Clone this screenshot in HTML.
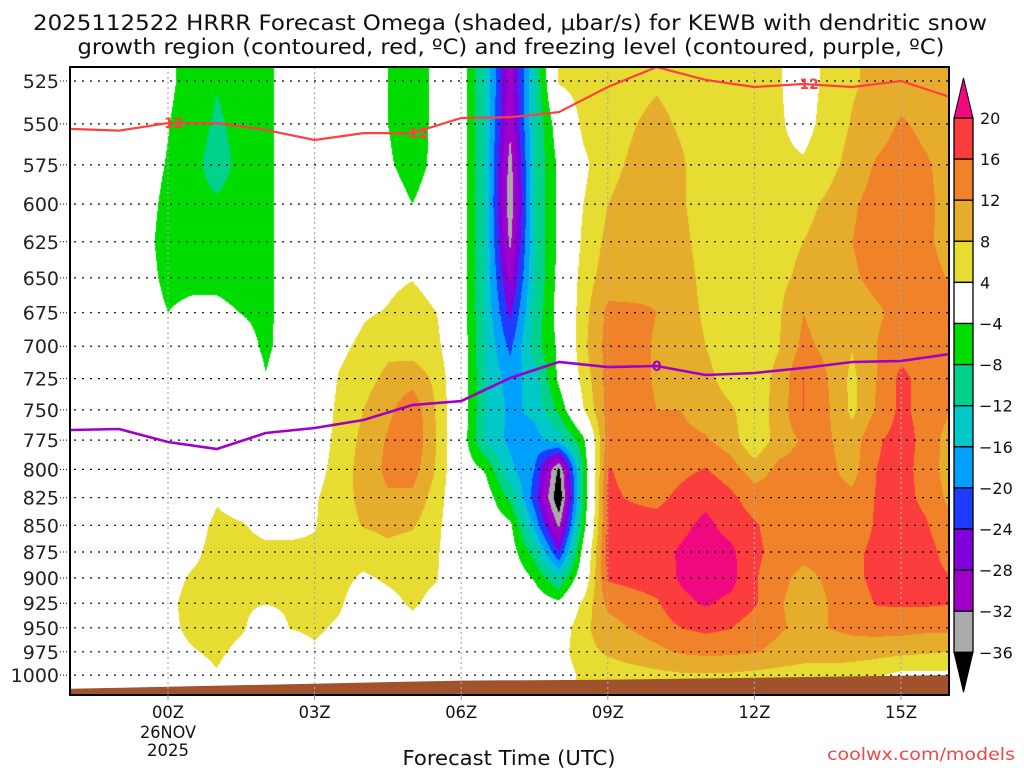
<!DOCTYPE html>
<html><head><meta charset="utf-8"><style>
html,body{margin:0;padding:0;background:#fff;}
#wrap{position:relative;width:1024px;height:768px;overflow:hidden;}
#fill{position:absolute;left:70px;top:67px;}
#ov{position:absolute;left:0;top:0;}
text{font-family:"DejaVu Sans","Liberation Sans",sans-serif;}
</style></head><body>
<div id="wrap">
<canvas id="fill" width="879" height="628"></canvas>
<svg id="ov" width="1024" height="768">
<g id="terrain"></g>
<g id="grid"></g>
<g id="lines"></g>
<rect x="70" y="67" width="879" height="628" fill="none" stroke="#000" stroke-width="2"/>
<g id="yaxis"></g>
<g id="xaxis"></g>
<g id="cbar"></g>
<text x="510" y="30" text-anchor="middle" font-size="21" textLength="954" lengthAdjust="spacingAndGlyphs" fill="#111">2025112522 HRRR Forecast Omega (shaded, μbar/s) for KEWB with dendritic snow</text>
<text x="511" y="54" text-anchor="middle" font-size="21" textLength="867" lengthAdjust="spacingAndGlyphs" fill="#111">growth region (contoured, red, ºC) and freezing level (contoured, purple, ºC)</text>
<text x="509" y="765" text-anchor="middle" font-size="20" textLength="213" lengthAdjust="spacingAndGlyphs" fill="#111">Forecast Time (UTC)</text>
<text x="921" y="760" text-anchor="middle" font-size="17" textLength="188" lengthAdjust="spacingAndGlyphs" fill="#f04848">coolwx.com/models</text>
</svg>
</div>
<script>
const times = [-2,-1,0,0.5,1,1.5,2,2.5,3,3.5,4,4.5,5,5.5,6,6.5,7,7.5,8,8.5,9,10,10.5,11,11.5,12,12.5,13,13.5,14,14.5,15,15.5,16];
const levels = [525,550,575,600,625,650,675,700,725,750,775,800,825,850,875,900,925,950,975,1000];
// omega per time column, levels 525 -> 1000
const omega = [
[0,0,0,0,0,0,0,0,0,0,0,0,0,0,0,0,0,0,0,0],
[0,0,0,0,0,0,0,0,0,0,0,0,0,0,0,0,0,0,0,0],
[-3,-3.8,-4.3,-5,-5.5,-5,-4,-2,0,0,0,0,0,1,2,2.5,3,3,2.5,1],
[-6,-6.5,-7,-7,-6.5,-5,-3,-1,0,0,0,0,0,2,3,4.5,5.5,5,3.7,2],
[-7.8,-8.5,-9.5,-7.5,-6.5,-5,-3,-1,0,0,0,0,3.5,5,5.5,5.5,5.5,5.5,4.8,3.7],
[-6.5,-7,-7,-6.5,-6,-5.5,-4.1,-2,0,0,0,0,2,4.3,5,5,4.5,4.5,3,1],
[-5,-5,-5,-5,-5,-5,-5,-4.8,-3.8,-1,0,0,0,3,4.8,5,4.1,2,0.5,0],
[-2,-2,-2,-2,-2,-2,-2,-2,-1,0,0,0,0,3,4.8,5,4.5,4.1,2,0],
[-1,-1,-1,-1,-1,-1,-1,-1,0,0.5,1,2,3.5,3.8,4.6,5,5,4.6,3.5,1],
[0,0,0,0,0,0,1,3,4.3,5,5.5,6,6.5,6,5.5,5,4.5,3.5,2,0.5],
[-2,-2,-2,-1.5,-0.5,1,3.5,5,6.5,8,9,9.5,9,8.3,5.5,3.5,2,1,0.5,0],
[-4,-4,-3.5,-2,0,3,4.3,7,9,11,12.5,13,11.5,9,7,4.5,3,1,0,0],
[-6,-6,-5.5,-4,-1,3.8,6,6,10.5,15,15.5,14,11,8.5,6,5,4.5,3,1,0],
[-3,-3,-3,-2,0,2,4,5,7,7.5,7.8,7.5,6,5,4.5,4.2,3,1,0,0],
[-1,-1,-1,-1,-1,-1,-1,-1,-1,-1,-1,-1,-0.5,0,0,0,0,0,0,0],
[-13,-13,-13,-13,-13,-13,-13,-12.5,-12,-12,-13,-4.5,-1.5,-0.5,0,0,0,0,0,0],
[-30,-31,-34,-35,-33,-29,-25,-21,-18,-17,-17,-15,-9,-3,-1.5,0,0,0,0,0],
[-12,-12,-12,-12,-12,-12,-11,-10,-14,-15,-17.5,-20,-22,-17,-10,-4.5,-1,0,0,0],
[4.5,-1,-3,-3,-3,-2.5,-2,-3,-3,-7,-14,-37,-40,-33,-24,-12,-3,1,2,1.5],
[5.5,5,3,4,5,6,6.5,7,5.5,3.8,-5,-8,-8,-6,-2,0,5,7,6.8,5],
[6,6.5,7,8,9,10,13,13.5,13.5,13.5,14,16.2,16.5,17,17.5,16.5,13,10.5,8.5,6],
[7.5,9,10,10.5,11,11.5,12,11.8,11.8,12,13.5,14,15,17.5,18.5,18,15.5,14,11,7],
[6.5,7.5,8.5,8.5,9,9.5,9.5,10,11,12,13,15,17,19,20.5,20.5,19,16,12.5,7.5],
[6,6,6,6,6.5,7,7.5,8,9,10,12.5,16.2,19,21,22,22,20.5,17,13,7.5],
[5.5,5.5,5.5,5.5,6,6,6,6,6.5,8.5,10,14,17,18.5,21,21.5,19,16.2,12.8,7.5],
[5,5,5,5.5,6,6.5,6.5,6.5,6,6,4.5,10,14,16.5,17,16.5,16.5,14,12.3,7],
[4.3,4.5,4.8,6,6.5,7,7.5,7.8,9,9.5,10,13,13.5,14,14.5,13,12.5,12.5,11,6.5],
[2,2.5,4.5,6.5,8,9,12,13,16.2,16.1,12.5,13.5,13.5,13.5,13,11,10,11,10,6],
[5,5.5,6.5,8.8,10,10.5,10,11,12,12.5,12.5,13,13,13,13.5,12.5,12,12,10,6],
[7.5,8.3,9.5,11.5,12,11.5,10,8.2,7,7,10,10.5,13,13.5,15,15,14,13,10,5.5],
[9,10,12.5,13.5,13.5,13,11.5,12,12,12.5,15.5,16,16.3,16.5,17,17,16.3,13.5,9.5,4.5],
[10,12.5,14,14.5,14,13.5,13,14.5,17,17,17.5,17.5,17.5,18,18,17.5,16.5,13.5,9,3],
[10,11,12.5,13,12.5,13,13.5,14,14.5,14.5,15,14.5,15,16.5,17.5,17,16.5,13,8.5,3],
[9.5,10,10.5,10.5,11,11.8,13,13,13,12.5,10,10,11,13,14.5,16.2,16.2,13,8,3]
];
const lineTimes = [-2,-1,0,1,2,3,4,5,6,7,8,9,10,11,12,13,14,15,16];
const dgzPress = [553,554,549.5,549.5,553.6,559.7,555.5,555.5,546.5,546,543,528.4,516.5,524.4,528.4,526.7,528.4,525,534.2];
const frzPress = [766.6,765.7,776.6,782.5,769.1,764.9,758.3,746.1,742.9,724.5,712.1,716,715.2,722.2,720.6,716.7,712.1,711.3,705.9];
const sfcTimes = [-2,6,9,16];
const sfcPress = [1015,1006,1005,1000];
const cbLevels = [20,16,12,8,4,-4,-8,-12,-16,-20,-24,-28,-32,-36];
const cbColors = ["#f0087e","#fb3d3d","#f0832a","#e6ad2d","#e6dc32","#ffffff","#00dc00","#00d28c","#00c8c8","#00a0ff","#1e3cff","#8200dc","#a000c8","#aaaaaa","#000000"];
const xTicks = [0,3,6,9,12,15];
const xTickLabels = ["00Z","03Z","06Z","09Z","12Z","15Z"];

const X0=70,X1=949,Y0=67,Y1=695;
function xOf(t){return 168+48.87*t;}
function yOf(p){return 81+922*Math.log(p/525);}
const NS="http://www.w3.org/2000/svg";
function mk(tag,parent){const e=document.createElementNS(NS,tag);parent.appendChild(e);return e;}

(function(){
  const cv=document.getElementById('fill'),ctx=cv.getContext('2d');
  const W=cv.width,H=cv.height,img=ctx.createImageData(W,H);
  const rgb=cbColors.map(c=>[parseInt(c.substr(1,2),16),parseInt(c.substr(3,2),16),parseInt(c.substr(5,2),16)]);
  const ly=levels.map(yOf), tx=times.map(xOf);
  const asc=cbLevels.slice().reverse();
  function colorIdx(v){let k=0; while(k<asc.length && v>=asc[k]) k++; return cbColors.length-1-k;}
  for(let j=0;j<H;j++){
    const y=Y0+j+0.5; let r=0,fr=0;
    if(y<=ly[0]){r=0;fr=0;} else if(y>=ly[ly.length-1]){r=ly.length-2;fr=1;}
    else{while(ly[r+1]<y)r++;fr=(y-ly[r])/(ly[r+1]-ly[r]);}
    let c=0;
    for(let i=0;i<W;i++){
      const x=X0+i+0.5; let fc;
      if(x<=tx[0]){c=0;fc=0;} else if(x>=tx[tx.length-1]){c=tx.length-2;fc=1;}
      else{while(tx[c+1]<x)c++;fc=(x-tx[c])/(tx[c+1]-tx[c]);}
      const a=omega[c][r],b=omega[c][r+1],d=omega[c+1][r],e=omega[c+1][r+1];
      const v=(a*(1-fr)+b*fr)*(1-fc)+(d*(1-fr)+e*fr)*fc;
      const col=rgb[colorIdx(v)],o=(j*W+i)*4;
      img.data[o]=col[0];img.data[o+1]=col[1];img.data[o+2]=col[2];img.data[o+3]=255;
    }
  }
  ctx.putImageData(img,0,0);
})();

(function(){
  const g=document.getElementById('terrain');
  let pts=[];
  for(let i=0;i<sfcTimes.length;i++){let x=Math.max(X0,Math.min(X1,xOf(sfcTimes[i])));pts.push(x+','+yOf(sfcPress[i]).toFixed(1));}
  pts.push(X1+','+Y1); pts.push(X0+','+Y1);
  const pg=mk('polygon',g);
  
  
  pg.setAttribute('points',pts.join(' '));pg.setAttribute('fill','#a0522d');
})();

(function(){
  const g=document.getElementById('grid');
  levels.forEach(p=>{
    const l=mk('line',g);
    
    
    const y=yOf(p).toFixed(1);
    l.setAttribute('x1',X0+4);l.setAttribute('x2',X1);l.setAttribute('y1',y);l.setAttribute('y2',y);
    l.setAttribute('stroke','#000');l.setAttribute('stroke-width','1.2');l.setAttribute('stroke-dasharray','2,6');
  });
  xTicks.forEach(t=>{
    const l=mk('line',g);
    
    
    const x=xOf(t).toFixed(1);
    l.setAttribute('x1',x);l.setAttribute('x2',x);l.setAttribute('y1',Y0);l.setAttribute('y2',Y1);
    l.setAttribute('stroke','#aaa');l.setAttribute('stroke-width','1.2');l.setAttribute('stroke-dasharray','2,3');
  });
})();

(function(){
  const g=document.getElementById('lines');
  function poly(arr,color,w,name){
    const pts=lineTimes.map((t,i)=>xOf(t).toFixed(1)+','+Math.max(Y0,yOf(arr[i])).toFixed(1)).join(' ');
    const pl=mk('polyline',g);
    
    
    pl.setAttribute('points',pts);pl.setAttribute('fill','none');pl.setAttribute('stroke',color);pl.setAttribute('stroke-width',w);
  }
  poly(dgzPress,'#ff4040',2.2,'dgz-minus12-line');
  poly(frzPress,'#a000c8',2.6,'freezing-level-line');
  function lab(t,arr,txt,color,name){
    const i=lineTimes.indexOf(t);
    const tx=mk('text',g);
    
    
    tx.setAttribute('x',xOf(t));tx.setAttribute('y',(yOf(arr[i])+5).toFixed(1));
    tx.setAttribute('text-anchor','middle');tx.setAttribute('font-size','14');tx.setAttribute('font-weight','bold');
    tx.setAttribute('fill',color);tx.textContent=txt;
  }
  lab(0,dgzPress,'−12','#ff4040','dgz-label');
  lab(5,dgzPress,'−12','#ff4040','dgz-label');
  lab(13,dgzPress,'−12','#ff4040','dgz-label');
  lab(10,frzPress,'0','#a000c8','freezing-label');
})();

(function(){
  const g=document.getElementById('yaxis');
  levels.forEach(p=>{
    const y=yOf(p);
    const tk=mk('line',g);
    
    
    tk.setAttribute('x1',60);tk.setAttribute('x2',69);tk.setAttribute('y1',y);tk.setAttribute('y2',y);tk.setAttribute('stroke','#000');tk.setAttribute('stroke-dasharray','1,2');
    const t=mk('text',g);
    
    
    t.setAttribute('x',59);t.setAttribute('y',(y+7).toFixed(1));t.setAttribute('text-anchor','end');t.setAttribute('font-size','19');t.setAttribute('fill','#222');
    t.textContent=String(p);
  });
})();

(function(){
  const g=document.getElementById('xaxis');
  xTicks.forEach((tv,i)=>{
    const x=xOf(tv);
    const tk=mk('line',g);
    
    
    tk.setAttribute('x1',x);tk.setAttribute('x2',x);tk.setAttribute('y1',Y1);tk.setAttribute('y2',Y1+5);tk.setAttribute('stroke','#999');
    const t=mk('text',g);
    
    
    t.setAttribute('x',x);t.setAttribute('y',718);t.setAttribute('text-anchor','middle');t.setAttribute('font-size','17');
    t.setAttribute('textLength','32');t.setAttribute('lengthAdjust','spacingAndGlyphs');t.setAttribute('fill','#111');
    t.textContent=xTickLabels[i];
  });
  const d1=mk('text',g);
  
  
  d1.setAttribute('x',168);d1.setAttribute('y',738);d1.setAttribute('text-anchor','middle');d1.setAttribute('font-size','17');
  d1.setAttribute('textLength','56');d1.setAttribute('lengthAdjust','spacingAndGlyphs');d1.setAttribute('fill','#111');d1.textContent='26NOV';
  const d2=mk('text',g);
  
  
  d2.setAttribute('x',168);d2.setAttribute('y',756);d2.setAttribute('text-anchor','middle');d2.setAttribute('font-size','17');
  d2.setAttribute('textLength','42');d2.setAttribute('lengthAdjust','spacingAndGlyphs');d2.setAttribute('fill','#111');d2.textContent='2025';
})();

(function(){
  const g=document.getElementById('cbar');
  const bx=954,bw=19,top=118,step=41.1;
  const yb=k=>top+k*step;
  const tri=mk('polygon',g);
  
  
  tri.setAttribute('points',bx+','+top+' '+(bx+bw)+','+top+' '+(bx+bw/2)+',78');
  tri.setAttribute('fill',cbColors[0]);tri.setAttribute('stroke','#000');
  for(let k=0;k<cbLevels.length-1;k++){
    const r=mk('rect',g);
    
    
    r.setAttribute('x',bx);r.setAttribute('y',yb(k));r.setAttribute('width',bw);r.setAttribute('height',step);
    r.setAttribute('fill',cbColors[k+1]);r.setAttribute('stroke','#000');r.setAttribute('stroke-width','1.3');
  }
  const yl=yb(cbLevels.length-1);
  const tri2=mk('polygon',g);
  
  
  tri2.setAttribute('points',bx+','+yl+' '+(bx+bw)+','+yl+' '+(bx+bw/2)+','+(yl+40));
  tri2.setAttribute('fill',cbColors[cbColors.length-1]);tri2.setAttribute('stroke','#000');
  cbLevels.forEach((v,k)=>{
    const t=mk('text',g);
    
    
    t.setAttribute('x',v<0?979:980);t.setAttribute('y',(yb(k)+6).toFixed(1));t.setAttribute('font-size','16');t.setAttribute('fill','#111');
    t.textContent=v<0?('−'+Math.abs(v)):String(v);
  });
})();
</script>
</body></html>
